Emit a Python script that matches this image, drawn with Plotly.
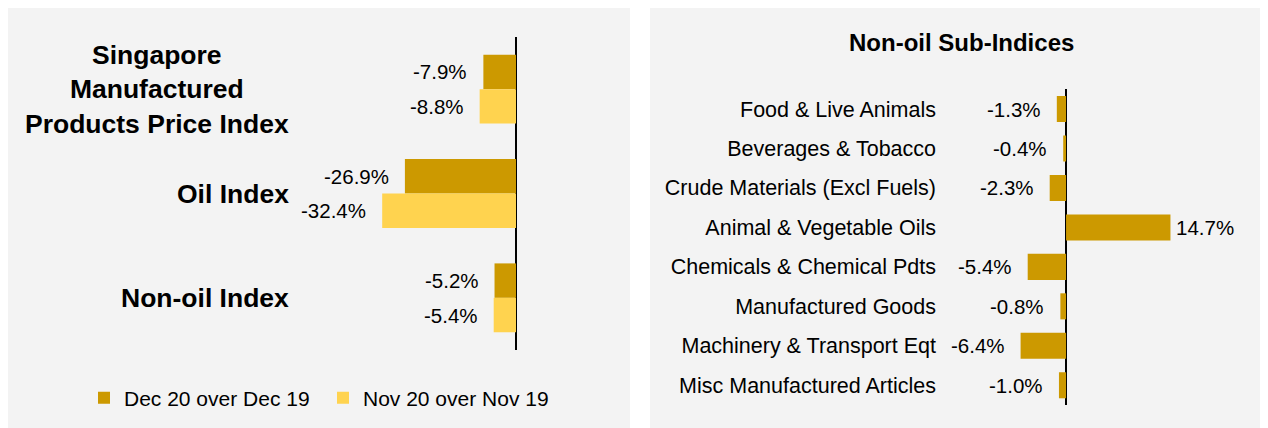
import plotly.graph_objects as go

# The page places the figure 8 px from the top-left corner, so the figure is
# sized to the remaining area and reference pixel positions are shifted by 8.
OFF = 8
W, H = 1268 - OFF, 428 - OFF

# ---------------- data ----------------
left_categories = ["Singapore<br>Manufactured<br>Products Price Index", "Oil Index", "Non-oil Index"]
series_names = ["Dec 20 over Dec 19", "Nov 20 over Nov 19"]
dec_values = [-7.9, -26.9, -5.2]
nov_values = [-8.8, -32.4, -5.4]

sub_title = "Non-oil Sub-Indices"
sub_categories = [
    "Food & Live Animals",
    "Beverages & Tobacco",
    "Crude Materials (Excl Fuels)",
    "Animal & Vegetable Oils",
    "Chemicals & Chemical Pdts",
    "Manufactured Goods",
    "Machinery & Transport Eqt",
    "Misc Manufactured Articles",
]
sub_values = [-1.3, -0.4, -2.3, 14.7, -5.4, -0.8, -6.4, -1.0]

# ---------------- style ----------------
DARK = "#CC9900"
LIGHT = "#FFD34F"
PANEL = "#F3F3F3"
FONT = "Liberation Sans, Arial, sans-serif"
BARGAP = 0.34
NEG_SHIFT = -14
POS_SHIFT = 4


def px(x):
    return (x - OFF) / W


def py(y):
    return 1 - (y - OFF) / H


fig = go.Figure()

left_idx = list(range(len(left_categories)))
fig.add_trace(go.Bar(x=dec_values, y=left_idx, orientation="h", name=series_names[0],
                     marker=dict(color=DARK, line=dict(width=0)), xaxis="x", yaxis="y"))
fig.add_trace(go.Bar(x=nov_values, y=left_idx, orientation="h", name=series_names[1],
                     marker=dict(color=LIGHT, line=dict(width=0)), xaxis="x", yaxis="y"))
fig.add_trace(go.Bar(x=sub_values, y=sub_categories, orientation="h", showlegend=False,
                     marker=dict(color=DARK, line=dict(width=0)), xaxis="x2", yaxis="y2"))

annotations = []
# category labels of left panel
for i, lab in enumerate(left_categories):
    annotations.append(dict(text="<b>%s</b>" % lab, x=px(291), xref="paper", xanchor="right",
                            y=i, yref="y", yanchor="middle", align="center", showarrow=False,
                            font=dict(family=FONT, size=26.5, color="#000")))

# value labels left panel (grouped bars)
half = (1 - BARGAP) / 4
for series, off in ((dec_values, -half), (nov_values, half)):
    for i, v in enumerate(series):
        annotations.append(dict(text="%.1f%%" % v, x=v, xref="x", y=i + off, yref="y",
                                xanchor="right" if v < 0 else "left",
                                xshift=NEG_SHIFT if v < 0 else POS_SHIFT, yanchor="middle",
                                showarrow=False, font=dict(family=FONT, size=20.5, color="#000")))

# value labels right panel
for c, v in zip(sub_categories, sub_values):
    annotations.append(dict(text="%.1f%%" % v, x=v, xref="x2", y=c, yref="y2",
                            xanchor="right" if v < 0 else "left",
                            xshift=NEG_SHIFT if v < 0 else POS_SHIFT, yanchor="middle",
                            showarrow=False, font=dict(family=FONT, size=20.5, color="#000")))

annotations.append(dict(text="<b>%s</b>" % sub_title, x=px(961), y=py(42), xref="paper", yref="paper",
                        xanchor="center", yanchor="middle", showarrow=False,
                        font=dict(family=FONT, size=24, color="#000")))

shapes = [
    dict(type="rect", xref="paper", yref="paper", x0=px(8), x1=px(630), y0=0, y1=py(8),
         fillcolor=PANEL, line=dict(width=0), layer="below"),
    dict(type="rect", xref="paper", yref="paper", x0=px(650), x1=px(1262), y0=0, y1=py(8),
         fillcolor=PANEL, line=dict(width=0), layer="below"),
]

fig.update_layout(
    width=W, height=H,
    margin=dict(l=0, r=0, t=0, b=0),
    paper_bgcolor="white", plot_bgcolor="rgba(0,0,0,0)",
    barmode="group", bargap=BARGAP, bargroupgap=0,
    font=dict(family=FONT, size=21, color="#000"),
    xaxis=dict(domain=[px(300), px(530)], range=[-52.3, 3.39], showticklabels=False,
               showgrid=False, zeroline=True, zerolinecolor="#000", zerolinewidth=2,
               showline=False, ticks="", anchor="y"),
    yaxis=dict(domain=[py(350), py(37)], range=[2.5, -0.5], showticklabels=False,
               showgrid=False, zeroline=False, showline=False, ticks="", anchor="x"),
    xaxis2=dict(domain=[px(937), px(1250)], range=[-18.17, 25.9], showticklabels=False,
                showgrid=False, zeroline=True, zerolinecolor="#000", zerolinewidth=2,
                showline=False, ticks="", anchor="y2"),
    yaxis2=dict(domain=[py(405), py(89.3)], range=[7.5, -0.5], type="category",
                categoryorder="array", categoryarray=sub_categories,
                showgrid=False, zeroline=False, showline=False, ticks="", anchor="x2",
                tickfont=dict(family=FONT, size=21.5, color="#000")),
    legend=dict(orientation="h", x=px(84), xanchor="left", y=py(398), yanchor="middle",
                font=dict(family=FONT, size=21, color="#000"), bgcolor="rgba(0,0,0,0)",
                entrywidth=194, entrywidthmode="pixels", traceorder="normal"),
    annotations=annotations,
    shapes=shapes,
)

fig.write_html("out.html")
